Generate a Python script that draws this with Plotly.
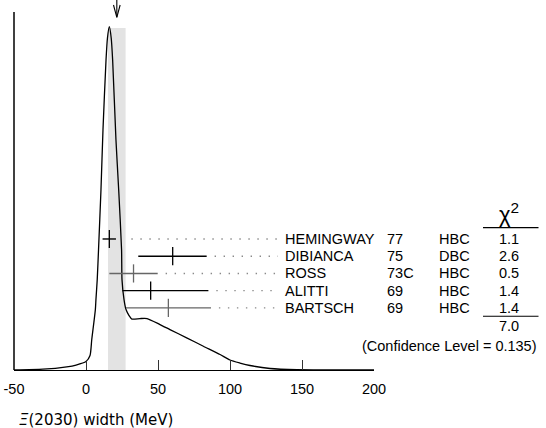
import plotly.graph_objects as go

# measurements (MeV)
names = ["HEMINGWAY", "DIBIANCA", "ROSS", "ALITTI", "BARTSCH"]
years = ["77", "75", "73C", "69", "69"]
techs = ["HBC", "DBC", "HBC", "HBC", "HBC"]
values = [16.2, 60.2, 33.0, 44.9, 57.2]
err_lo = [4.7, 23.9, 16.8, 19.7, 29.4]
err_hi = [4.6, 23.6, 16.8, 40.1, 29.6]
chi2 = ["1.1", "2.6", "0.5", "1.4", "1.4"]
chi2_total = "7.0"
conf_level = "0.135"
row_color = ["#000000", "#000000", "#666666", "#000000", "#666666"]

# weighted average and its error
avg = 21.4
avg_err = 6.1

# ideogram curve (x in MeV, height in px)
curve_x = [-50, -29.9, -13.4, -6.9, 0.0, 2.8, 4.0, 6.5, 6.9, 7.8, 8.7, 10.4, 11.8,
           13.9, 14.9, 16.2, 17.5, 18.5, 20.8, 22.7, 24.7, 25.0, 26.4, 27.8, 29.9,
           31.9, 37.5, 42.4, 51.4, 58.3, 69.9, 81.5, 93.1, 100.0, 106.9, 113.9,
           127.8, 146.5, 200]
curve_h = [0, 0.8, 3.2, 5.0, 8.5, 14.5, 30.5, 60.5, 70.5, 90.5, 120.5, 180.5, 240.5,
           310.5, 332.5, 343.8, 332.5, 310.5, 230.5, 180.5, 120.5, 90.5, 70.5, 60.5,
           54.5, 51.0, 51.5, 51.5, 45.5, 40.5, 32.2, 23.8, 15.5, 10.0, 7.0, 4.5,
           1.5, 0.3, 0]

x_ticks = [-50, 0, 50, 100, 150, 200]
x_ticktext = ["-50", "0", "50", "100", "150", "200"]
x_title = "<i>Ξ</i>(2030) width (MeV)"

W, H = 546, 428
ML, MR, MB = 14, 172, 57.5
PW = W - ML - MR
YTOP = H - MB          # y axis in pixel-height units
row_h0, row_step = 131.2, 17.25
dots_end = 133.3
FONT = "Liberation Sans, Arial, sans-serif"


def px2paper(px):
    return (px - ML) / PW


fig = go.Figure()

# band for the average
fig.add_shape(type="rect", xref="x", yref="y", x0=avg - avg_err, x1=avg + avg_err,
              y0=0, y1=342.5, fillcolor="#e3e3e3", line_width=0, layer="below")

# ideogram
fig.add_trace(go.Scatter(x=curve_x, y=curve_h, mode="lines",
                         line=dict(color="black", width=1.3, shape="spline", smoothing=0.6),
                         hoverinfo="skip"))

# arrow at the average
fig.add_trace(go.Scatter(x=[avg, avg, None, avg - 2.3, avg, avg + 2.3],
                         y=[370.5, 353.2, None, 365.5, 353.2, 365.5], mode="lines",
                         line=dict(color="black", width=1.1), hoverinfo="skip"))

for i, n in enumerate(names):
    yh = row_h0 - i * row_step
    start = max(values[i] + err_hi[i] + 5.5, 31.5)
    fig.add_trace(go.Scatter(x=[start, dots_end], y=[yh, yh], mode="lines",
                             line=dict(color="#8a8a8a", width=1.4, dash="1.4px,7.6px"),
                             hoverinfo="skip"))
    fig.add_trace(go.Scatter(
        x=[values[i]], y=[yh], mode="markers",
        marker=dict(symbol="line-ns-open", size=13, color=row_color[i],
                    line=dict(color=row_color[i], width=1.3)),
        error_x=dict(type="data", array=[err_hi[i]], arrayminus=[err_lo[i]],
                     color=row_color[i], thickness=1.4, width=0),
        hoverinfo="skip"))
    for txt, px, anc in [(n, 283, "left"), (years[i], 385, "left"),
                         (techs[i], 436.5, "left"), (chi2[i], 521, "right")]:
        fig.add_annotation(x=px2paper(px), xref="paper", y=yh, yref="y", text=txt,
                           showarrow=False, xanchor=anc, yanchor="middle",
                           font=dict(family=FONT, size=14.5, color="black"))

# chi2 header and totals
fig.add_annotation(x=px2paper(509), xref="paper", y=157, yref="y",
                   text="χ<sup>2</sup>", showarrow=False, xanchor="center",
                   yanchor="middle", font=dict(family=FONT, size=22, color="black"))
fig.add_annotation(x=px2paper(521), xref="paper", y=44.5, yref="y", text=chi2_total,
                   showarrow=False, xanchor="right", yanchor="middle",
                   font=dict(family=FONT, size=14.5, color="black"))
fig.add_annotation(x=px2paper(538.5), xref="paper", y=23.8, yref="y",
                   text="(Confidence Level = " + conf_level + ")",
                   showarrow=False, xanchor="right", yanchor="middle",
                   font=dict(family=FONT, size=14.5, color="black"))
for yl in [142.5, 53.8]:
    fig.add_shape(type="line", xref="paper", yref="y", x0=px2paper(483), x1=px2paper(538.5),
                  y0=yl, y1=yl, line=dict(color="black", width=1.2))

# left frame line
fig.add_shape(type="line", xref="paper", yref="y", x0=0, x1=0, y0=0, y1=358.5,
              line=dict(color="black", width=1.5))

# axis title
fig.add_annotation(x=px2paper(17), xref="paper", y=-(421 - YTOP) / YTOP, yref="paper",
                   text=x_title, showarrow=False, xanchor="left", yanchor="middle",
                   font=dict(family="DejaVu Sans, sans-serif", size=15, color="black"))

fig.update_layout(
    width=W, height=H,
    margin=dict(l=ML, r=MR, t=0, b=MB, pad=0, autoexpand=False),
    plot_bgcolor="white", paper_bgcolor="white",
    showlegend=False,
    xaxis=dict(range=[-50, 200], tickvals=x_ticks, ticktext=x_ticktext,
               ticks="inside", ticklen=10, ticklabelstandoff=5,
               tickwidth=1.2, tickcolor="#333333", showline=True, linecolor="black",
               linewidth=1.2, showgrid=False, zeroline=False, automargin=False,
               tickfont=dict(family=FONT, size=14.5, color="black")),
    yaxis=dict(range=[0, YTOP], visible=False, showgrid=False, zeroline=False,
               automargin=False),
)

# drop the page's default body margin so the figure sits at the window corner
fig.write_html("out.html", config={"displayModeBar": False},
               post_script="document.body.style.margin='0';")
